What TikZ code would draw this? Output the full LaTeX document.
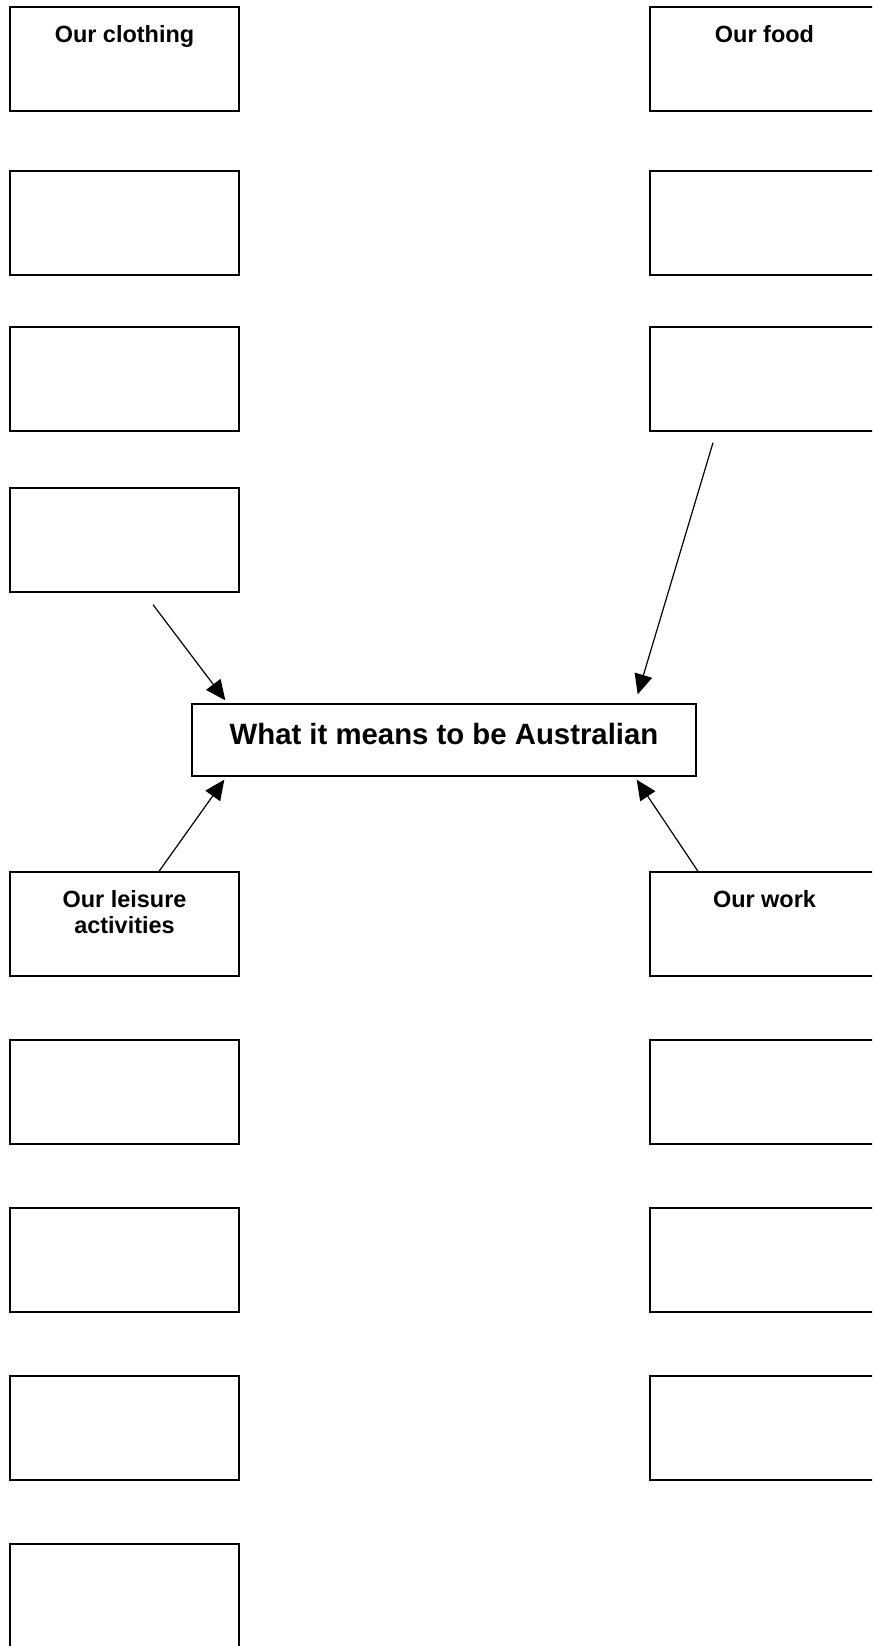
\documentclass[tikz,border=0pt]{standalone}
\usepackage{fontspec}
\setmainfont{Liberation Sans}
\usepackage{tikz}
\usetikzlibrary{arrows.meta,calc,positioning}

\tikzset{
	box/.style={draw, line width=1pt, minimum width=171.75pt, minimum height=78pt, inner sep=0pt},
	tag/.style={anchor=north, inner sep=0pt, yshift=-14.25pt, align=center, font=\bfseries\fontsize{17.6}{19.5}\selectfont},
	arr/.style={line width=0.9pt, -{Triangle[length=15pt,width=13.5pt]}}
}

\begin{document}
\begin{tikzpicture}[x=0.75pt,y=-0.75pt]
		\useasboundingbox (0,0) rectangle (872,1646);
		\clip (0,0) rectangle (872,1646);
		\node[box, label={[tag]north:Our clothing}] (clothing) at (124.5,59) {};
		\node[box] (cloth2) at (124.5,223) {};
		\node[box] (cloth3) at (124.5,379) {};
		\node[box] (cloth4) at (124.5,540) {};
		\node[box, label={[tag]north:Our food}] (food) at (764.5,59) {};
		\node[box] (food2) at (764.5,223) {};
		\node[box] (food3) at (764.5,379) {};
		\node[draw, line width=1pt, minimum width=378pt, minimum height=54pt, text height=15.75pt, text depth=9.75pt, font=\bfseries\fontsize{22}{26}\selectfont] (centre) at (444,740) {What it means to be Australian};
		\node[box, label={[tag]north:Our leisure\\activities}] (leisure) at (124.5,924) {};
		\node[box] (leis2) at (124.5,1092) {};
		\node[box] (leis3) at (124.5,1260) {};
		\node[box] (leis4) at (124.5,1428) {};
		\node[box] (leis5) at (124.5,1596) {};
		\node[box, label={[tag]north:Our work}] (work) at (764.5,924) {};
		\node[box] (work2) at (764.5,1092) {};
		\node[box] (work3) at (764.5,1260) {};
		\node[box] (work4) at (764.5,1428) {};
		\draw[arr] ($(cloth4.south)+(28.5,12)$) -- ($(centre.north west)+(34,-3)$);
		\draw[arr] ($(food3.south)+(-51.5,11)$) -- ($(centre.north east)+(-59,-9)$);
		\draw[arr] ($(leisure.north)+(34.5,0)$) -- ($(centre.south west)+(33,3)$);
		\draw[arr] ($(work.north)+(-66.5,0)$) -- ($(centre.south east)+(-60,3)$);
\end{tikzpicture}
\end{document}
